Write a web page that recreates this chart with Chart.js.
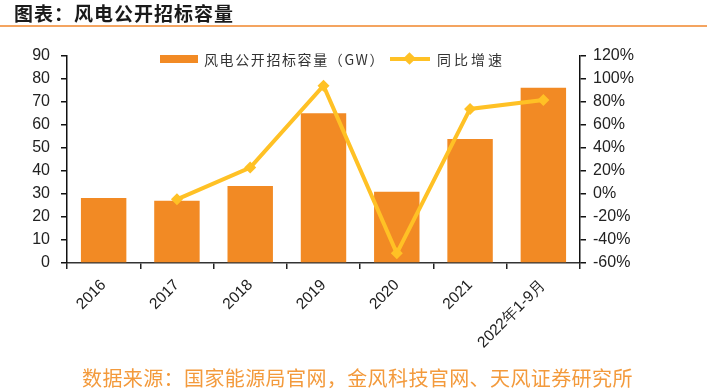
<!DOCTYPE html>
<html>
<head>
<meta charset="utf-8">
<script src="https://cdn.jsdelivr.net/npm/chart.js@4/dist/chart.umd.min.js"></script>
<style>
  html, body { margin: 0; padding: 0; background: #fff; }
  #wrap { position: relative; width: 707px; height: 389px; overflow: hidden; font-family: "Noto Sans CJK SC", sans-serif; }
  #chart { position: absolute; left: 0; top: 0; }
  .title { position: absolute; left: 14px; top: 0px; font-size: 19px; font-weight: bold; color: #1a1a1a; letter-spacing: 1px; line-height: 26px; }
  .rule { position: absolute; left: 0; top: 25px; width: 707px; height: 2px; background: #f4a460; }
  .source { position: absolute; left: 82px; top: 365px; font-size: 20px; color: #f39a3c; line-height: 26px; letter-spacing: 0.4px; white-space: nowrap; }
  .lg { position: absolute; font-size: 14px; color: #333; letter-spacing: 1.6px; line-height: 18px; white-space: nowrap; }
  .lg-bar { position: absolute; left: 160px; top: 55px; width: 38px; height: 8px; background: #f28a24; }
  .lg-line { position: absolute; left: 390px; top: 57px; width: 40px; height: 4px; background: #ffc125; }
  .lg-dia { position: absolute; left: 405px; top: 54px; width: 9px; height: 9px; background: #ffc125; transform: rotate(45deg); }
</style>
</head>
<body>
<div id="wrap">
  <canvas id="chart" width="707" height="389"></canvas>
  <div class="title">图表：风电公开招标容量</div>
  <div class="rule"></div>
  <div class="lg-bar"></div>
  <div class="lg" style="left:204px; top:50px;">风电公开招标容量（GW）</div>
  <div class="lg-line"></div>
  <div class="lg-dia"></div>
  <div class="lg" style="left:437px; top:50px; letter-spacing:3px;">同比增速</div>
  <div class="source">数据来源：国家能源局官网，金风科技官网、天风证券研究所</div>
</div>
<script>
const categories = ['2016', '2017', '2018', '2019', '2020', '2021', '2022年1-9月'];
const capacityGW = [28.3, 27.1, 33.5, 65.1, 31.0, 53.9, 76.2];
const yoyGrowth = [null, -4.6, 23.0, 94.2, -51.6, 74.0, 81.7];
const leftTicks = [0, 90, 10];
const rightTicks = [-60, 120, 20];

const barColor = '#f28a24';
const lineColor = '#ffc125';
const tickFont = { family: '"Liberation Sans", Arial, sans-serif', size: 16 };

const ctx = document.getElementById('chart').getContext('2d');
const chart = new Chart(ctx, {
    data: {
        labels: categories,
        datasets: [
            {
                type: 'line',
                label: '同比增速',
                data: yoyGrowth,
                yAxisID: 'y1',
                borderColor: lineColor,
                backgroundColor: lineColor,
                borderWidth: 4,
                pointStyle: 'rectRot',
                pointRadius: 6,
                pointBorderWidth: 0,
                tension: 0,
                clip: false,
                order: 0
            },
            {
                type: 'bar',
                label: '风电公开招标容量（GW）',
                data: capacityGW,
                yAxisID: 'y',
                backgroundColor: barColor,
                barPercentage: 0.62,
                categoryPercentage: 1,
                order: 1
            }
        ]
    },
    options: {
        responsive: false,
        animation: false,
        layout: { padding: { top: 56, left: 0, right: 0, bottom: 0 } },
        plugins: {
            legend: { display: false },
            tooltip: { enabled: false }
        },
        scales: {
            x: {
                offset: true,
                grid: { display: true, drawOnChartArea: false, offset: true, tickLength: 6, color: '#222', lineWidth: 1.5 },
                border: { color: '#333', width: 1.5 },
                ticks: { font: { family: tickFont.family, size: 15.5 }, color: '#222', minRotation: 45, maxRotation: 45, padding: 7 },
                afterFit: (scale) => { scale.height = 126; }
            },
            y: {
                position: 'left',
                min: leftTicks[0],
                max: leftTicks[1],
                ticks: { stepSize: leftTicks[2], font: tickFont, color: '#222', padding: 11 },
                grid: { drawOnChartArea: false, tickLength: 6, color: '#111', lineWidth: 1.5 },
                border: { color: '#111', width: 1.5 },
                afterFit: (scale) => { scale.width = 67; }
            },
            y1: {
                position: 'right',
                min: rightTicks[0],
                max: rightTicks[1],
                ticks: { stepSize: rightTicks[2], font: tickFont, color: '#222', padding: 7,
                    callback: (v) => v + '%' },
                grid: { drawOnChartArea: false, tickLength: 6, color: '#111', lineWidth: 1.5 },
                border: { color: '#111', width: 1.5 },
                afterFit: (scale) => { scale.width = 127; }
            }
        }
    }
});
</script>
</body>
</html>
